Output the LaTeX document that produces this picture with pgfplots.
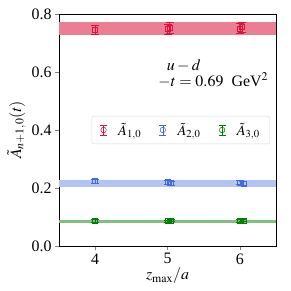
\documentclass[border=0pt]{standalone}
\usepackage{mathptmx}
\usepackage{fontspec}
\setmainfont{Liberation Serif}
\usepackage{pgfplots}
\pgfplotsset{compat=1.18}
\definecolor{cred}{HTML}{DC143C}
\definecolor{cblue}{HTML}{4169E1}
\definecolor{cgreen}{HTML}{008000}
\pgfplotsset{
  ebleg/.style={legend image code/.code={
    \draw[#1, line width=0.6pt] (0.2cm,-0.17cm) -- (0.2cm,0.17cm);
    \draw[#1, line width=0.6pt] (0.08cm,-0.17cm) -- (0.32cm,-0.17cm);
    \draw[#1, line width=0.6pt] (0.08cm,0.17cm) -- (0.32cm,0.17cm);
    \draw[#1, line width=0.6pt] (0.11cm,-0.09cm) rectangle (0.29cm,0.09cm);
  }},
}
\begin{document}
\begin{tikzpicture}
\path[use as bounding box] (-59bp,-45bp) rectangle (232bp,246bp);
\begin{axis}[
  at={(0,0)}, anchor=south west,
  scale only axis, width=217bp, height=232bp,
  xmin=3.5, xmax=6.5, ymin=0, ymax=0.8,
  xtick={4,5,6}, ytick={0,0.2,0.4,0.6,0.8},
  /pgf/number format/assume math mode=true,
  yticklabel style={/pgf/number format/fixed,/pgf/number format/fixed zerofill,/pgf/number format/precision=1},
  tick align=outside, tick pos=left,
  major tick length=4bp,
  ticklabel style={font=\fontsize{16}{18}\selectfont},
  xlabel={$z_{\mathrm{max}}/a$}, ylabel={$\tilde{A}_{n+1,0}(t)$},
  label style={font=\fontsize{16}{18}\selectfont},
  xlabel style={yshift=3pt},
  ylabel style={yshift=-1pt},
  legend columns=3,
  legend style={at={(0.972,0.5)}, anchor=east, draw=black!15, rounded corners=2pt, font=\fontsize{14.5}{16}\selectfont, inner xsep=8pt, inner ysep=5pt,
    /tikz/every odd column/.append style={column sep=9pt},
    /tikz/every even column/.append style={column sep=16pt}},
  legend cell align=left,
  error bars/y dir=both, error bars/y explicit,
  error bars/error mark options={rotate=90, mark size=4bp, line width=0.6pt},
]
% bands
\addplot[draw=none, fill=cred!55, forget plot] coordinates {(3.5,0.728) (6.5,0.728) (6.5,0.772) (3.5,0.772)} -- cycle;
\addplot[draw=none, fill=cblue!40, forget plot] coordinates {(3.5,0.205) (6.5,0.205) (6.5,0.228) (3.5,0.228)} -- cycle;
\addplot[draw=none, fill=cgreen!50, forget plot] coordinates {(3.5,0.078) (6.5,0.078) (6.5,0.089) (3.5,0.089)} -- cycle;
% points
\addplot[only marks, mark=square, mark size=2.5bp, color=cred, error bars/error bar style={cred, line width=0.6pt}, ebleg=cred] coordinates {
 (4,0.745) +- (0,0.016)
 (5,0.748) +- (0,0.018)
 (5.03,0.753) +- (0,0.018)
 (6,0.750) +- (0,0.018)
 (6.03,0.755) +- (0,0.018)};
\addlegendentry{$\tilde{A}_{1,0}$}
\addplot[only marks, mark=square, mark size=2.5bp, color=cblue, error bars/error bar style={cblue, line width=0.6pt}, ebleg=cblue] coordinates {
 (4,0.224) +- (0,0.007)
 (5,0.221) +- (0,0.007)
 (5.05,0.217) +- (0,0.007)
 (6,0.219) +- (0,0.007)
 (6.05,0.215) +- (0,0.007)};
\addlegendentry{$\tilde{A}_{2,0}$}
\addplot[only marks, mark=square, mark size=2.5bp, color=cgreen, error bars/error bar style={cgreen, line width=0.6pt}, ebleg=cgreen] coordinates {
 (4,0.087) +- (0,0.004)
 (5,0.086) +- (0,0.004)
 (5.05,0.088) +- (0,0.004)
 (6,0.087) +- (0,0.004)
 (6.05,0.088) +- (0,0.004)};
\addlegendentry{$\tilde{A}_{3,0}$}
\node[anchor=south west, inner sep=0pt, font=\fontsize{16}{18}\selectfont] at (axis cs:4.99,0.60) {$u-d$};
\node[anchor=north west, inner sep=0pt, font=\fontsize{16}{18}\selectfont] at (axis cs:4.87,0.598) {$-t=0.69$~~GeV$^2$};
\end{axis}
\end{tikzpicture}
\end{document}
